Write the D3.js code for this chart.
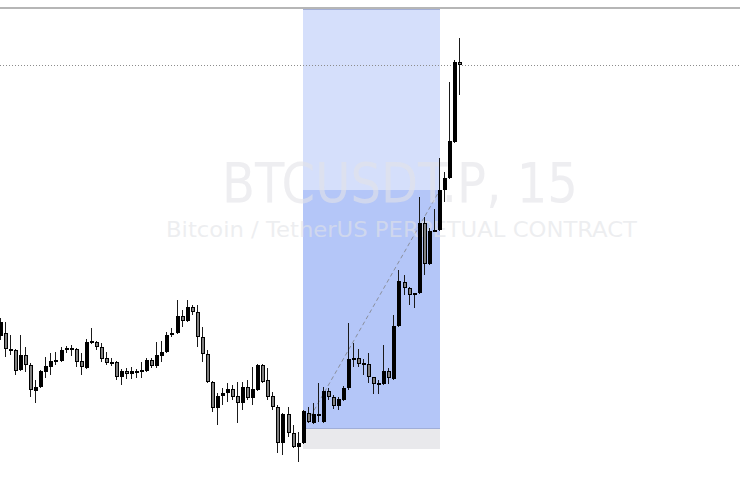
<!DOCTYPE html>
<html>
<head>
<meta charset="utf-8">
<script src="https://cdn.jsdelivr.net/npm/d3@7"></script>
<style>
  html, body { margin: 0; padding: 0; background: #fff; }
  svg { display: block; }
</style>
</head>
<body>
<svg id="chart" width="740" height="482"></svg>
<script>
// BTCUSDT.P 15m candles, one entry per bar (oldest first)
const opens  = [68240, 68270, 68090, 68100, 67900, 68050, 67950, 67690, 67730, 67880,
                67930, 68000, 67990, 68110, 68120, 68110, 67990, 67920, 68190, 68180,
                68130, 68020, 67970, 67980, 67830, 67890, 67860, 67870, 67900, 67890,
                68000, 67940, 68040, 68080, 68250, 68270, 68440, 68390, 68530, 68480,
                68230, 68060, 67780, 67520, 67640, 67670, 67710, 67640, 67570, 67730,
                67620, 67700, 67950, 67800, 67640, 67530, 67170, 67460, 67270, 67130,
                67170, 67470, 67370, 67440, 67380, 67690, 67630, 67540, 67600, 67720,
                68000, 68020, 67970, 67960, 67830, 67760, 67760, 67890, 67810, 68340,
                68780, 68720, 68650, 68670, 69370, 68960, 69290, 69300, 69700, 69820,
                70180, 70980];
const highs  = [68420, 68380, 68250, 68110, 68250, 68130, 67970, 67800, 67900, 68030,
                68070, 68080, 68130, 68140, 68150, 68120, 68070, 68210, 68320, 68190,
                68170, 68080, 68020, 67990, 67910, 67920, 67930, 67910, 67980, 68020,
                68020, 68180, 68190, 68280, 68320, 68600, 68500, 68600, 68550, 68550,
                68330, 68100, 67790, 67670, 67720, 67770, 67750, 67780, 67780, 67800,
                67930, 67960, 67960, 67920, 67680, 67550, 67470, 67530, 67350, 67280,
                67500, 67530, 67570, 67770, 67730, 67720, 67650, 67630, 67740, 68370,
                68170, 68110, 68010, 68070, 67830, 67800, 68150, 67920, 68450, 68900,
                68850, 68730, 68670, 69630, 69430, 69320, 69510, 70020, 69880, 70780,
                71000, 71220];
const lows   = [68200, 68030, 68050, 67850, 67890, 67880, 67630, 67570, 67720, 67820,
                67850, 67950, 67980, 68070, 68040, 67930, 67850, 67910, 68160, 68100,
                67980, 67950, 67940, 67800, 67750, 67810, 67810, 67820, 67820, 67880,
                67920, 67920, 67980, 68070, 68230, 68260, 68330, 68380, 68450, 68130,
                67980, 67770, 67480, 67350, 67550, 67580, 67600, 67370, 67500, 67600,
                67550, 67690, 67770, 67600, 67500, 67070, 67050, 67230, 67120, 66980,
                67160, 67370, 67360, 67380, 67370, 67600, 67510, 67500, 67590, 67700,
                67930, 67930, 67850, 67770, 67660, 67660, 67750, 67760, 67800, 68330,
                68650, 68550, 68520, 68660, 68850, 68950, 69280, 69290, 69580, 69810,
                70170, 70650];
const closes = [68380, 68110, 68110, 67890, 68050, 67950, 67700, 67730, 67890, 67940,
                67990, 67980, 68100, 68120, 68100, 67980, 67930, 68180, 68170, 68130,
                68010, 67970, 67980, 67830, 67890, 67860, 67890, 67890, 67880, 68000,
                67940, 68050, 68080, 68250, 68270, 68440, 68390, 68530, 68480, 68230,
                68060, 67780, 67520, 67640, 67670, 67710, 67630, 67570, 67730, 67620,
                67710, 67950, 67780, 67630, 67530, 67170, 67460, 67270, 67130, 67170,
                67490, 67380, 67460, 67460, 67690, 67630, 67540, 67610, 67720, 68010,
                68020, 67960, 67960, 67830, 67760, 67770, 67890, 67820, 68340, 68790,
                68720, 68650, 68670, 69370, 68960, 69290, 69300, 69700, 69820, 70190,
                70980, 70950];

// long position drawing: bar indices and price levels
const positionBars = [60, 87];
const targetPrice = 71510;
const entryPrice = 67315;
const stopPrice = 67110;

const symbolTitle = 'BTCUSDT.P, 15';
const symbolDescription = 'Bitcoin / TetherUS PERPETUAL CONTRACT';

document.addEventListener('DOMContentLoaded', () => {
  const width = 740;
  const height = 482;
  const svg = d3.select('#chart');

  const candles = opens.map((o, i) => ({
    i: i, open: o, high: highs[i], low: lows[i], close: closes[i]
  }));

  const x = d3.scaleLinear().domain([0, candles.length - 1]).range([1, 460]);
  const y = d3.scaleLinear().domain([66780, 71600]).range([height, 0]);

  svg.append('rect').attr('width', width).attr('height', height).attr('fill', '#fff');

  // pane top border
  svg.append('line')
    .attr('x1', 0).attr('x2', width)
    .attr('y1', 8).attr('y2', 8)
    .attr('stroke', '#9e9e9e')
    .attr('stroke-width', 1.5);

  // position tool zones
  const px0 = Math.round(x(positionBars[0])) - 1;
  const px1 = Math.round(x(positionBars[1]));
  const lastInZone = closes[positionBars[1]];
  const pos = svg.append('g').attr('class', 'position');

  pos.append('rect')
    .attr('x', px0).attr('width', px1 - px0)
    .attr('y', y(targetPrice)).attr('height', y(entryPrice) - y(targetPrice))
    .attr('fill', '#d5dffb');
  pos.append('rect')
    .attr('x', px0).attr('width', px1 - px0)
    .attr('y', y(lastInZone)).attr('height', y(entryPrice) - y(lastInZone))
    .attr('fill', '#b4c6f8');
  pos.append('rect')
    .attr('x', px0).attr('width', px1 - px0)
    .attr('y', y(entryPrice)).attr('height', y(stopPrice) - y(entryPrice))
    .attr('fill', '#e9e9ec');
  pos.append('line')
    .attr('x1', px0).attr('x2', px1)
    .attr('y1', y(targetPrice) + 0.5).attr('y2', y(targetPrice) + 0.5)
    .attr('stroke', '#a3afd6');
  pos.append('line')
    .attr('x1', px0).attr('x2', px1)
    .attr('y1', y(entryPrice)).attr('y2', y(entryPrice))
    .attr('stroke', '#a0aed8');

  // watermark
  svg.append('text')
    .attr('x', 400).attr('y', 202)
    .attr('text-anchor', 'middle')
    .attr('font-family', 'DejaVu Sans, sans-serif')
    .attr('font-size', 55)
    .attr('textLength', 356)
    .attr('lengthAdjust', 'spacingAndGlyphs')
    .attr('fill', '#e2e3e7')
    .attr('fill-opacity', 0.6)
    .text(symbolTitle);
  svg.append('text')
    .attr('x', 401.5).attr('y', 237)
    .attr('text-anchor', 'middle')
    .attr('font-family', 'DejaVu Sans, sans-serif')
    .attr('font-size', 21.5)
    .attr('textLength', 471)
    .attr('lengthAdjust', 'spacingAndGlyphs')
    .attr('fill', '#e2e3e7')
    .attr('fill-opacity', 0.6)
    .text(symbolDescription);

  // entry -> current dashed path
  pos.append('line')
    .attr('x1', x(positionBars[0])).attr('y1', y(entryPrice))
    .attr('x2', x(positionBars[1])).attr('y2', y(lastInZone))
    .attr('stroke', '#8a8f9c')
    .attr('stroke-width', 1)
    .attr('stroke-dasharray', '4,3');

  // last price line
  svg.append('line')
    .attr('x1', 0).attr('x2', width)
    .attr('y1', Math.round(y(closes[closes.length - 1])) + 0.5)
    .attr('y2', Math.round(y(closes[closes.length - 1])) + 0.5)
    .attr('stroke', '#8c8c8c')
    .attr('stroke-dasharray', '1,2');

  // candles
  const candle = svg.append('g').attr('class', 'candles')
    .selectAll('g')
    .data(candles)
    .enter()
    .append('g');

  candle.append('line')
    .attr('x1', d => Math.round(x(d.i)) - 0.5)
    .attr('x2', d => Math.round(x(d.i)) - 0.5)
    .attr('y1', d => y(d.high))
    .attr('y2', d => y(d.low))
    .attr('stroke', '#1a1a1a')
    .attr('stroke-width', 1);

  candle.append('rect')
    .attr('x', d => Math.round(x(d.i)) - 1.5)
    .attr('width', 3)
    .attr('y', d => y(Math.max(d.open, d.close)) + 0.5)
    .attr('height', d => Math.max(1, Math.abs(y(d.open) - y(d.close)) - 1))
    .attr('fill', d => d.close >= d.open ? '#000' : '#7f7f7f')
    .attr('stroke', '#000')
    .attr('stroke-width', 1);
});
</script>
</body>
</html>
